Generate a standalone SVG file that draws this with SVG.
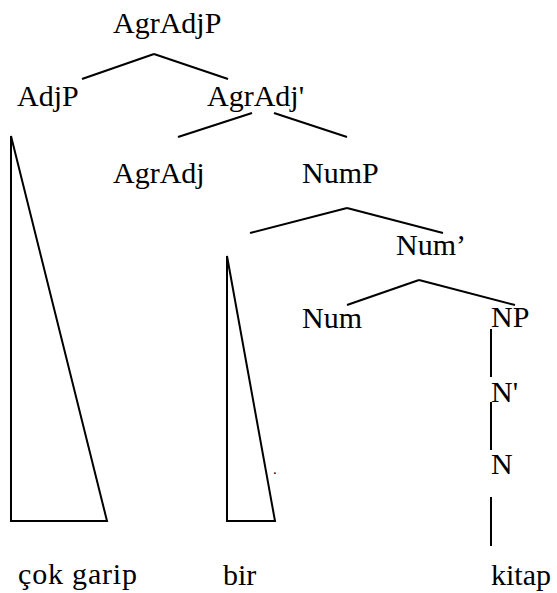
<svg xmlns="http://www.w3.org/2000/svg" width="557" height="593" viewBox="0 0 557 593">
<style>
text{font-family:'Liberation Serif','Times New Roman',serif;font-size:30px;fill:#000}
.e{stroke:#000;stroke-width:2;fill:none}
.dot{font-size:15px}
</style>
<rect width="557" height="593" fill="#fff"/>
<g id="connectors">
<line class="e" x1="154" y1="54" x2="82" y2="79"/>
<line class="e" x1="154" y1="54" x2="228" y2="79"/>
<line class="e" x1="252" y1="113" x2="178" y2="137"/>
<line class="e" x1="274" y1="113" x2="347" y2="137"/>
<line class="e" x1="347" y1="208" x2="250" y2="233"/>
<line class="e" x1="347" y1="208" x2="443" y2="233"/>
<line class="e" x1="419" y1="280" x2="347" y2="305"/>
<line class="e" x1="419" y1="280" x2="515" y2="305"/>
<line class="e" x1="491" y1="329" x2="491" y2="377"/>
<line class="e" x1="491" y1="402" x2="491" y2="450"/>
<line class="e" x1="491" y1="497" x2="491" y2="546"/>
<polygon class="e" points="11,136 11,521 107,521"/>
<polygon class="e" points="227,256 227,521 275,521"/>
</g>
<g id="n-agradjp"><text x="113" y="33">AgrAdjP</text></g>
<g id="n-adjp"><text x="17" y="106">AdjP</text></g>
<g id="n-agradj-bar"><text x="207" y="106">AgrAdj'</text></g>
<g id="n-agradj"><text x="113" y="183">AgrAdj</text></g>
<g id="n-nump"><text x="302" y="183">NumP</text></g>
<g id="n-num-bar"><text x="396" y="255">Num’</text></g>
<g id="n-num"><text x="302" y="328">Num</text></g>
<g id="n-np"><text x="491" y="327">NP</text></g>
<g id="n-n-bar"><text x="491" y="402">N'</text></g>
<g id="n-n"><text x="491" y="474">N</text></g>
<g id="n-dot"><text class="dot" x="273" y="474">.</text></g>
<g id="n-cok-garip"><text x="18" y="584" textLength="119">çok garip</text></g>
<g id="n-bir"><text x="223" y="585">bir</text></g>
<g id="n-kitap"><text x="491" y="585">kitap</text></g>
</svg>
